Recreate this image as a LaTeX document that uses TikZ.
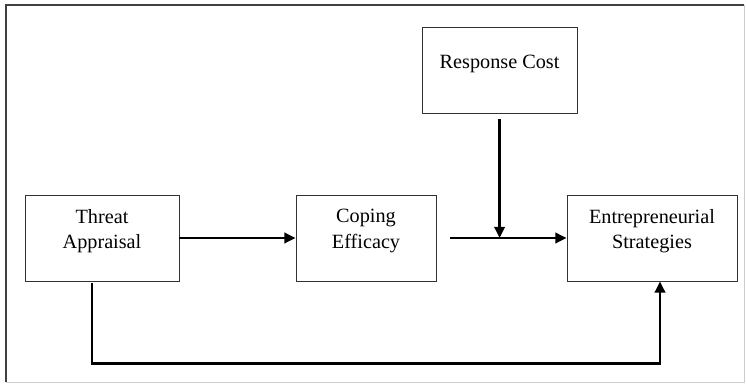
\documentclass[tikz,border=0pt]{standalone}
\usepackage{fontspec}
\setmainfont{Liberation Serif}
\usetikzlibrary{arrows.meta,positioning}

\begin{document}
\begin{tikzpicture}[node distance=6.6cm, every node/.style={font=\fontsize{14.4}{18.3}\selectfont},
    box/.style={draw=black!80, line width=0.7pt, rectangle, align=center, minimum height=2.15cm, text depth=0.45cm},
    flow/.style={line width=1.9pt, -{Triangle[length=0.28cm, width=0.26cm]}}]
    \useasboundingbox (0,0) rectangle (18.675,-9.625);
    % outer frame
    \draw[black!20, line width=0.7pt] (18.6,-0.125) -- (18.6,-9.55) -- (0.15,-9.55);
    \draw[black!75, line width=0.9pt] (0.15,-9.55) -- (0.15,-0.125) -- (18.6,-0.125);

    % factors
    \node[box, minimum width=3.85cm] (threat) at (2.55,-5.95) {Threat\\Appraisal};
    \node[box, minimum width=3.5cm, right of=threat] (coping) {Coping\\Efficacy};
    \node[box, minimum width=4.25cm, right of=coping, xshift=0.55cm] (ent) {Entrepreneurial\\Strategies};
    \node[box, minimum width=3.875cm] (resp) at (12.49,-1.77) {Response Cost};

    % paths
    \draw[flow] (threat.east) -- (coping.west);
    \coordinate[right=0.35cm of coping.east] (gap);
    \draw[flow] (gap) -- (gap -| ent.west);
    \coordinate (join) at (resp.south |- gap);
    \draw[flow] ([yshift=-0.12cm]resp.south) -- (join);
    \draw[flow] ([xshift=-0.25cm, yshift=-0.05cm]threat.south) -- ++(0,-2.0) -| ([xshift=0.2cm]ent.south);
\end{tikzpicture}
\end{document}
